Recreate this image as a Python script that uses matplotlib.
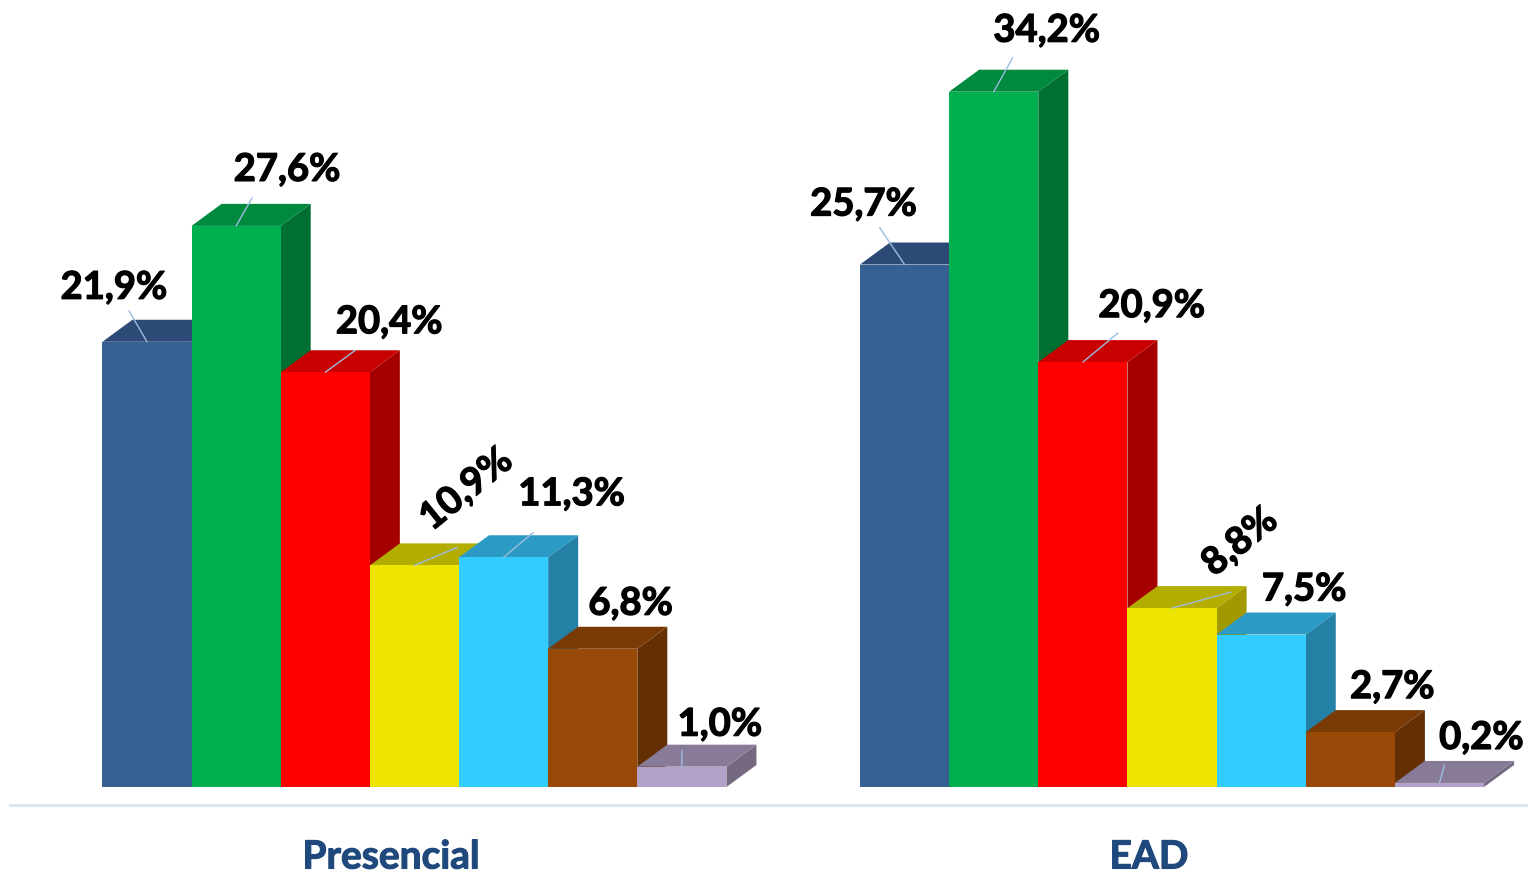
import matplotlib
matplotlib.use('Agg')
import matplotlib.pyplot as plt
import matplotlib.patheffects as pe
from matplotlib.patches import Polygon

plt.rcParams['font.family'] = ['Lato', 'DejaVu Sans']

# values
groups = ['Presencial', 'EAD']
presencial = [21.9, 27.6, 20.4, 10.9, 11.3, 6.8, 1.0]
ead = [25.7, 34.2, 20.9, 8.8, 7.5, 2.7, 0.2]
presencial_labels = ['21,9%', '27,6%', '20,4%', '10,9%', '11,3%', '6,8%', '1,0%']
ead_labels = ['25,7%', '34,2%', '20,9%', '8,8%', '7,5%', '2,7%', '0,2%']

front_colors = ['#376092', '#00b050', '#ff0000', '#ede500', '#33ccff', '#984807', '#b3a2c7']
top_colors = ['#2c4a75', '#008a3e', '#c80000', '#b3ad00', '#2b9ac4', '#7a3a06', '#887b98']
side_colors = ['#264066', '#006f32', '#a50000', '#a09a00', '#2480a5', '#652f04', '#75697f']

# pixel scale of the picture
W, H = 1528, 875
bar_px = 89.15
pct_px = 20.33
base_px = 787
depth_x = 30 / bar_px
depth_y = 22 / pct_px

# label centre and leader end, as pixel offsets from the middle of each bar's front top edge
presencial_text = [(-33, 54), (51, 56), (64, 50), (52, 76), (68, 63), (38, 45), (38, 42)]
presencial_lead = [(-18, 31), (16, 28), (30, 22), (43, 18), (30, 25), None, (0, 16)]
presencial_rot = [0, 0, 0, 39, 0, 0, 0]
ead_text = [(-41, 60), (53, 61), (69, 56), (68, 66), (43, 45), (42, 45), (42, 45)]
ead_lead = [(-25, 37), (19, 34), (35, 29), (59, 16), None, None, (5, 18)]
ead_rot = [0, 0, 0, 39, 0, 0, 0]

fig = plt.figure(figsize=(W / 100, H / 100), dpi=100)
ax = fig.add_axes([0, 0, 1, 1])
ax.set_xlim(0, W / bar_px)
ax.set_ylim(-(H - base_px) / pct_px, base_px / pct_px)
ax.axis('off')

# Lato bold is a bit lighter than the reference type
thicker = [pe.withStroke(linewidth=0.9, foreground='black')]


def draw_group(start, values, labels, text_off, lead_off, rots):
    for i, v in enumerate(values):
        x0 = start + i
        x1 = x0 + 1
        # side and top faces first, the next bar then covers what it should
        ax.add_patch(Polygon([(x1, 0), (x1 + depth_x, depth_y), (x1 + depth_x, v + depth_y), (x1, v)],
                             color=side_colors[i], lw=0, zorder=2 + i))
        ax.add_patch(Polygon([(x0, v), (x0 + depth_x, v + depth_y), (x1 + depth_x, v + depth_y), (x1, v)],
                             color=top_colors[i], lw=0, zorder=2 + i))
        ax.bar(x0, v, width=1, align='edge', color=front_colors[i], lw=0, zorder=2 + i)

        xc = x0 + 0.5
        if lead_off[i] is not None:
            ax.annotate('', xy=(xc, v), xytext=lead_off[i], textcoords='offset pixels',
                        arrowprops=dict(arrowstyle='-', color='#9dbbe0', lw=1, shrinkA=0, shrinkB=0),
                        zorder=20)
        ax.annotate(labels[i], xy=(xc, v), xytext=text_off[i], textcoords='offset pixels',
                    ha='center', va='center', rotation=rots[i], rotation_mode='anchor',
                    fontsize=27.5, fontweight='bold', color='black', zorder=21,
                    path_effects=thicker)


draw_group(102.4 / bar_px, presencial, presencial_labels, presencial_text, presencial_lead, presencial_rot)
draw_group(860 / bar_px, ead, ead_labels, ead_text, ead_lead, ead_rot)

# baseline under both groups
line_y = -(805 - base_px) / pct_px
ax.plot([10 / bar_px, W / bar_px], [line_y, line_y], color='#d9e3f2', lw=2, zorder=1)

# group names, placed so the text box stays inside the picture
name_y = -(857 - base_px) / pct_px
blue_stroke = [pe.withStroke(linewidth=0.8, foreground='#1f497d')]
ax.text(391 / bar_px, name_y, groups[0], ha='center', va='center', fontsize=28, fontweight='bold',
        color='#1f497d', path_effects=blue_stroke)
ax.text(1149 / bar_px, name_y, groups[1], ha='center', va='center', fontsize=28, fontweight='bold',
        color='#1f497d', path_effects=blue_stroke)

fig.savefig('out.png', dpi=100)
